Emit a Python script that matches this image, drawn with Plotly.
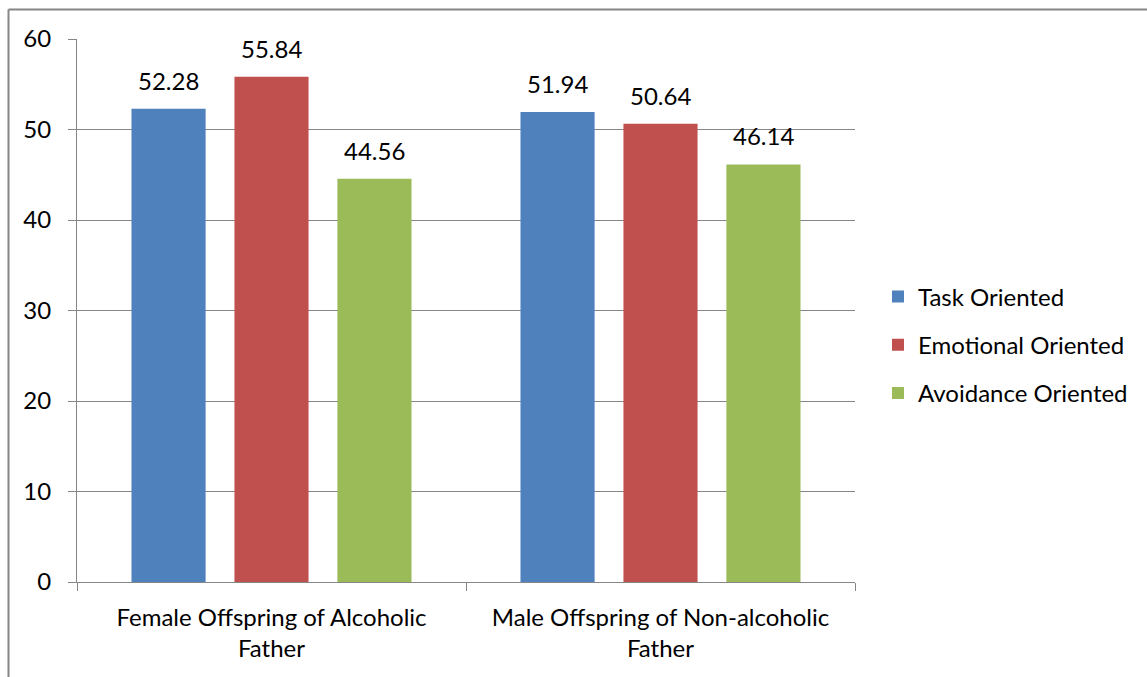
import plotly.graph_objects as go

categories = ["Female Offspring of Alcoholic<br>Father", "Male Offspring of Non-alcoholic<br>Father"]
task_oriented = [52.28, 51.94]
emotional_oriented = [55.84, 50.64]
avoidance_oriented = [44.56, 46.14]

series = [
    ("Task Oriented", task_oriented, "#4F81BD"),
    ("Emotional Oriented", emotional_oriented, "#C0504D"),
    ("Avoidance Oriented", avoidance_oriented, "#9BBB59"),
]

FONT = "Lato"
GRID = "#868686"
LABEL_SIZE = 24

W, H = 1147, 677
L, R, T, B = 77, 292, 39, 95
pw, ph = W - L - R, H - T - B

BARGAP = 0.206
GROUPGAP = 0.28
# pixel distance between neighbouring bars inside a category group
slot_px = pw / len(categories) * (1 - BARGAP) / len(series)


def px_x(p):
    return (p - L) / pw


def px_y(p):
    return (H - B - p) / ph


fig = go.Figure()
annotations = []
for i, (name, vals, color) in enumerate(series):
    fig.add_trace(go.Bar(
        x=categories, y=vals, name=name,
        marker=dict(color=color, line=dict(width=0)),
        legendgroup=f"g{i}",
        hoverinfo="x+y+name",
    ))
    for cat, v in zip(categories, vals):
        annotations.append(dict(
            x=cat, y=v, xref="x", yref="y",
            text=f"{v:.2f}", showarrow=False,
            xanchor="center", yanchor="bottom",
            xshift=(i - (len(series) - 1) / 2) * slot_px,
            yshift=12,
            font=dict(family=FONT, size=LABEL_SIZE, color="#000000"),
        ))

fig.update_layout(
    width=W, height=H,
    margin=dict(l=L, r=R, t=T, b=B, pad=0),
    paper_bgcolor="white", plot_bgcolor="white",
    font=dict(family=FONT, size=LABEL_SIZE, color="#000000"),
    barmode="group",
    bargap=BARGAP,
    bargroupgap=GROUPGAP,
    showlegend=True,
    legend=dict(
        x=px_x(878), y=px_y(345), yanchor="middle", xanchor="left",
        font=dict(family=FONT, size=24, color="#000000"),
        traceorder="grouped", tracegroupgap=14,
        bgcolor="rgba(0,0,0,0)",
    ),
    xaxis=dict(
        showgrid=False, showline=True, linecolor=GRID, linewidth=1,
        ticks="outside", ticklen=8, tickcolor=GRID, tickson="boundaries",
        tickfont=dict(family=FONT, size=LABEL_SIZE, color="#000000"),
        ticklabelstandoff=14,
        fixedrange=True,
    ),
    yaxis=dict(
        range=[0, 60], dtick=10, tick0=0,
        showgrid=True, gridcolor=GRID, gridwidth=1,
        showline=True, linecolor=GRID, linewidth=1,
        ticks="outside", ticklen=8, tickcolor=GRID,
        tickfont=dict(family=FONT, size=LABEL_SIZE, color="#000000"),
        ticklabelstandoff=12,
        zeroline=False, fixedrange=True,
    ),
    annotations=annotations,
    shapes=[
        # chart frame: left and top edges
        dict(type="line", xref="paper", yref="paper",
             x0=px_x(8.5), x1=px_x(8.5), y0=px_y(H), y1=px_y(9.5),
             line=dict(color=GRID, width=2)),
        dict(type="line", xref="paper", yref="paper",
             x0=px_x(8.5), x1=px_x(W), y0=px_y(9.5), y1=px_y(9.5),
             line=dict(color=GRID, width=2)),
    ],
)

fig.write_html("out.html")
